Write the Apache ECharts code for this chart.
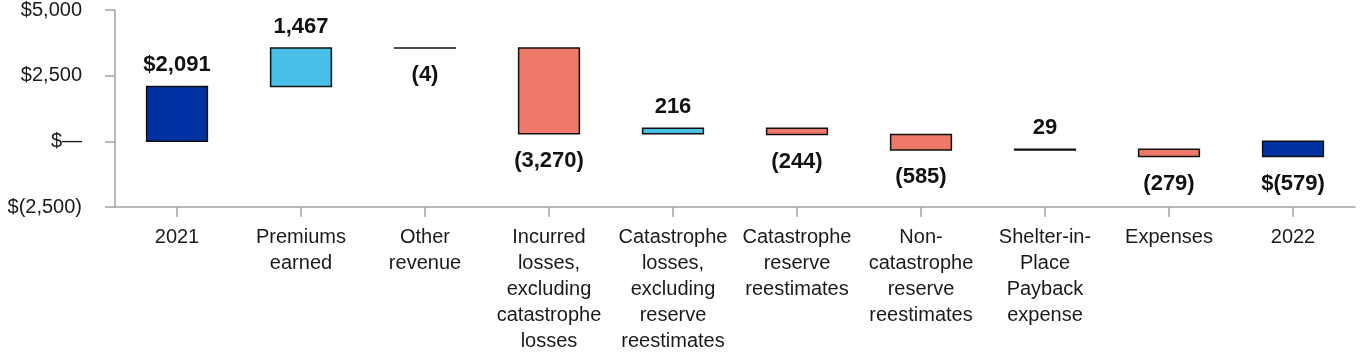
<!DOCTYPE html>
<html>
<head>
<meta charset="utf-8">
<script src="https://cdn.jsdelivr.net/npm/echarts@6/dist/echarts.min.js"></script>
<style>
html,body{margin:0;padding:0;background:#fff;}
#chart{width:1364px;height:360px;}
</style>
</head>
<body>
<div id="chart"></div>
<script>
// ---- data ----
const categories = [
  '2021',
  'Premiums\nearned',
  'Other\nrevenue',
  'Incurred\nlosses,\nexcluding\ncatastrophe\nlosses',
  'Catastrophe\nlosses,\nexcluding\nreserve\nreestimates',
  'Catastrophe\nreserve\nreestimates',
  'Non-\ncatastrophe\nreserve\nreestimates',
  'Shelter-in-\nPlace\nPayback\nexpense',
  'Expenses',
  '2022'
];
// kind: 'total' bars start at zero; 'delta' bars float
const kinds = ['total','delta','delta','delta','delta','delta','delta','delta','delta','total'];
const values = [2091, 1467, -4, -3270, 216, -244, -585, 29, -279, -579];
const valueLabels = ['$2,091','1,467','(4)','(3,270)','216','(244)','(585)','29','(279)','$(579)'];
const yTicks = [-2500, 0, 2500, 5000];
const yTickLabels = ['$(2,500)', '$\u2014', '$2,500', '$5,000'];

// ---- build waterfall ranges ----
const rows = [];
let run = 0;
for (let i = 0; i < values.length; i++) {
  let s, e;
  if (kinds[i] === 'total') { s = 0; e = values[i]; run = values[i]; }
  else { s = run; e = run + values[i]; run = e; }
  rows.push([i, s, e]);
}

const colors = { total: '#0033a1', up: '#47bfe6', down: '#ee7968' };

const chart = echarts.init(document.getElementById('chart'), null, { renderer: 'canvas' });
chart.setOption({
  animation: false,
  backgroundColor: '#ffffff',
  grid: { left: 115, right: 9, top: 10, bottom: 153, containLabel: false },
  xAxis: {
    type: 'category',
    data: categories,
    axisLine: { show: true, onZero: false, lineStyle: { color: '#a3a3a3', width: 1.5 } },
    axisTick: { show: true, alignWithLabel: true, length: 10, lineStyle: { color: '#a3a3a3', width: 1.5 } },
    axisLabel: {
      interval: 0, margin: 17, fontSize: 20, lineHeight: 26,
      color: '#1a1a1a', fontFamily: '"Liberation Sans", Arial, sans-serif'
    },
    splitLine: { show: false }
  },
  yAxis: {
    type: 'value',
    min: yTicks[0], max: yTicks[yTicks.length - 1], interval: 2500,
    axisLine: { show: true, lineStyle: { color: '#a3a3a3', width: 1.5 } },
    axisTick: { show: true, length: 10, lineStyle: { color: '#a3a3a3', width: 1.5 } },
    splitLine: { show: false },
    axisLabel: {
      margin: 33, fontSize: 20, color: '#1a1a1a',
      fontFamily: '"Liberation Sans", Arial, sans-serif',
      formatter: function (v) {
        const k = yTicks.indexOf(v);
        return k >= 0 ? yTickLabels[k] : '';
      }
    }
  },
  series: [{
    type: 'custom',
    data: rows,
    encode: { x: 0, y: [1, 2] },
    renderItem: function (params, api) {
      const i = api.value(0);
      const s = api.value(1), e = api.value(2);
      const hi = Math.max(s, e), lo = Math.min(s, e);
      const pTop = api.coord([i, hi]);
      const pBot = api.coord([i, lo]);
      const w = api.size([1, 0])[0] * 0.49;
      let fill;
      if (kinds[i] === 'total') fill = colors.total;
      else fill = values[i] >= 0 ? colors.up : colors.down;
      const up = values[i] >= 0;
      return {
        type: 'group',
        children: [
          {
            type: 'rect',
            shape: { x: pTop[0] - w / 2, y: pTop[1], width: w, height: Math.max(pBot[1] - pTop[1], 0.1) },
            style: { fill: fill, stroke: '#111', lineWidth: 1.5 }
          },
          {
            type: 'text',
            style: {
              text: valueLabels[i],
              x: pTop[0],
              y: up ? pTop[1] - 21 : pBot[1] + 27,
              align: 'center', verticalAlign: 'middle',
              fontSize: 22, fontWeight: 'bold',
              fontFamily: '"Liberation Sans", Arial, sans-serif',
              fill: '#111'
            }
          }
        ]
      };
    }
  }]
});
</script>
</body>
</html>
